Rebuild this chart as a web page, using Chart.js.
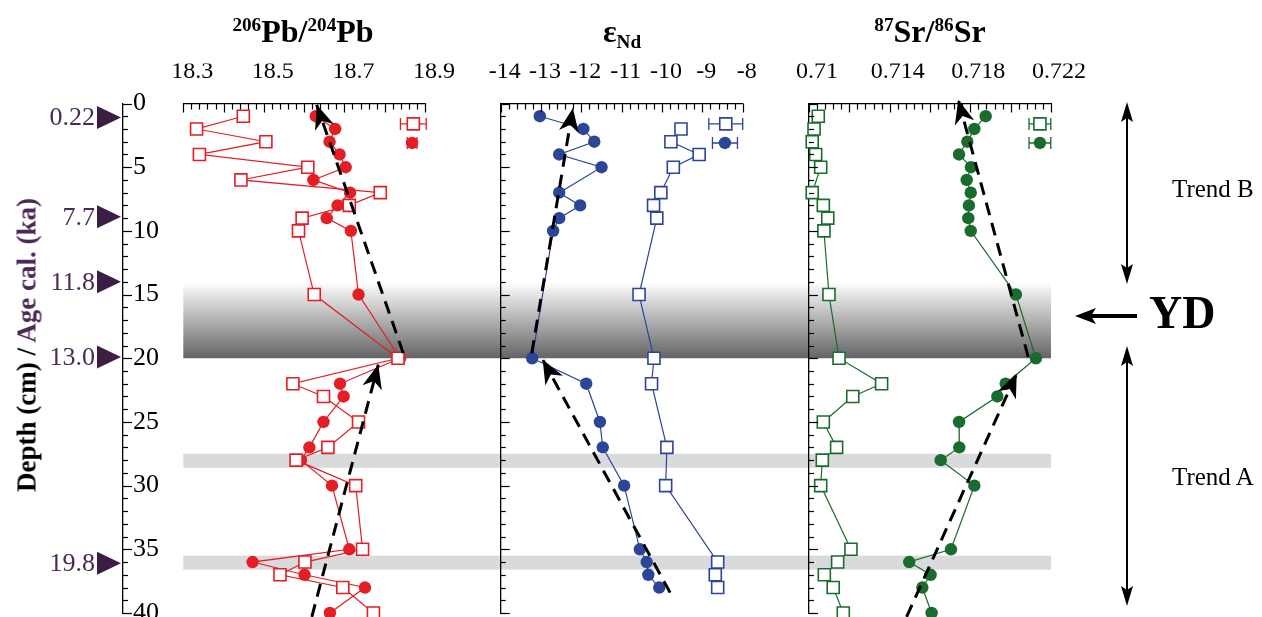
<!DOCTYPE html>
<html>
<head>
<meta charset="utf-8">
<script src="https://cdn.jsdelivr.net/npm/chart.js@4"></script>
<style>
body { margin: 0; background: #fff; width: 1262px; height: 617px; overflow: hidden; position: relative; font-family: "Liberation Serif", serif; }
canvas { position: absolute; left: 0; top: 0; }
.t { position: absolute; white-space: nowrap; line-height: 1; }
.h { font-weight: bold; font-size: 32px; transform: translateX(-50%); }
.h sup { font-size: 0.6em; vertical-align: 0.55em; line-height: 0; }
.h sub { font-size: 0.6em; vertical-align: -0.3em; line-height: 0; }
</style>
</head>
<body>
<canvas id="bands" width="1262" height="650"></canvas>
<canvas id="depth" width="1262" height="650"></canvas>
<canvas id="pb" width="1262" height="650"></canvas>
<canvas id="nd" width="1262" height="650"></canvas>
<canvas id="sr" width="1262" height="650"></canvas>

<div class="t h" style="left:303px;top:15px"><sup>206</sup>Pb/<sup>204</sup>Pb</div>
<div class="t h" style="left:622px;top:15px">ε<sub>Nd</sub></div>
<div class="t h" style="left:930px;top:15px"><sup>87</sup>Sr/<sup>86</sup>Sr</div>

<div class="t" style="left:27px;top:345px;font-weight:bold;font-size:27px;transform:translate(-50%,-50%) rotate(-90deg)">Depth (cm) / <span style="color:#4b2a55">Age cal. (ka)</span></div>

<div class="t" style="left:1172px;top:176px;font-size:25px">Trend B</div>
<div class="t" style="left:1172px;top:464px;font-size:25px">Trend A</div>
<div class="t" style="left:1149px;top:290px;font-size:46px;font-weight:bold">YD</div>

<svg width="1262" height="617" style="position:absolute;left:0;top:0">
  <line x1="1127" y1="116" x2="1127" y2="270" stroke="#000" stroke-width="2"/>
  <polygon points="1127,102 1133,122 1127,118 1121,122" fill="#000"/>
  <polygon points="1127,284 1133,264 1127,268 1121,264" fill="#000"/>
  <line x1="1127" y1="360" x2="1127" y2="592" stroke="#000" stroke-width="2"/>
  <polygon points="1127,346 1133,366 1127,362 1121,366" fill="#000"/>
  <polygon points="1127,606 1133,586 1127,590 1121,586" fill="#000"/>
  <line x1="1137" y1="316" x2="1090" y2="316" stroke="#000" stroke-width="4"/>
  <polygon points="1075,316 1096,308 1091,316 1096,324" fill="#000"/>
</svg>

<script>
// depth (cm) of each sample
const pbDepth = [1, 2, 3, 4, 5, 6, 7, 8, 9, 10, 15, 20, 22, 23, 25, 27, 28, 30, 35, 36, 37, 38, 40];
const pbOpen = [18.449, 18.333, 18.505, 18.340, 18.609, 18.443, 18.789, 18.712, 18.595, 18.586, 18.625, 18.833,
                18.572, 18.648, 18.735, 18.659, 18.580, 18.728, 18.745, 18.602, 18.540, 18.696, 18.772];
const pbFilled = [18.629, 18.677, 18.663, 18.688, 18.703, 18.623, 18.714, 18.683, 18.656, 18.716, 18.735, 18.838,
                  18.689, 18.698, 18.648, 18.613, 18.592, 18.669, 18.712, 18.472, 18.601, 18.751, 18.664];

const ndOpenDepth = [2, 3, 4, 5, 7, 8, 9, 15, 20, 22, 27, 30, 36, 37, 38];
const ndOpen = [-9.53, -9.78, -9.08, -9.72, -10.03, -10.21, -10.13, -10.57, -10.20, -10.26, -9.88, -9.91, -8.62, -8.68, -8.62];
const ndFilledDepth = [1, 2, 3, 4, 5, 7, 8, 9, 10, 20, 22, 25, 27, 30, 35, 36, 37, 38];
const ndFilled = [-13.03, -11.95, -11.68, -12.55, -11.50, -12.55, -12.03, -12.55, -12.70, -13.22,
                  -11.88, -11.54, -11.47, -10.94, -10.55, -10.38, -10.34, -10.07];

const srOpenDepth = [1, 2, 3, 4, 5, 7, 8, 9, 10, 15, 20, 22, 23, 25, 27, 28, 30, 35, 36, 37, 38, 40];
const srOpen = [0.71046, 0.71025, 0.71016, 0.71033, 0.71058, 0.71016, 0.71071, 0.71093, 0.71074, 0.71099, 0.71149,
                0.71360, 0.71217, 0.71071, 0.71137, 0.71066, 0.71058, 0.71208, 0.71142, 0.71076, 0.71120, 0.71170];
const srFilledDepth = [1, 2, 3, 4, 5, 6, 7, 8, 9, 10, 15, 20, 22, 23, 25, 27, 28, 30, 35, 36, 37, 38, 40];
const srFilled = [0.71876, 0.71820, 0.71785, 0.71744, 0.71803, 0.71782, 0.71802, 0.71793, 0.71790, 0.71802, 0.72026, 0.72125,
                  0.71975, 0.71934, 0.71744, 0.71745, 0.71653, 0.71820, 0.71704, 0.71497, 0.71603, 0.71562, 0.71608];

// dashed trend arrows: [value, depth], tail first, tip last
const pbTrendB = [[18.846, 19.6], [18.631, 0.1]];
const pbTrendA = [[18.619, 40.3], [18.784, 20.5]];
const ndTrendB = [[-13.23, 19.6], [-12.21, 0.35]];
const ndTrendA = [[-9.80, 38.4], [-12.96, 20.1]];
const srTrendB = [[0.72087, 19.9], [0.71740, -0.3]];
const srTrendA = [[0.71484, 40.3], [0.72030, 21.2]];

// uncertainty keys (open square, filled circle)
const keyDepth = [1.6, 3.1];
const pbKey = [18.871, 18.868], pbKeyErr = [0.032, 0.012];
const ndKey = [-8.42, -8.44], ndKeyErr = [0.42, 0.31];
const srKey = [0.72145, 0.72145], srKeyErr = [0.00054, 0.00054];

const pbTicks = [18.3, 18.5, 18.7, 18.9];
const ndTicks = [-14, -13, -12, -11, -10, -9, -8];
const srTicks = [0.710, 0.714, 0.718, 0.722];
const depthTicks = [0, 5, 10, 15, 20, 25, 30, 35, 40];

const ageDepth = [1.1, 8.9, 14.0, 19.9, 36.1];
const ageLabels = ['0.22', '7.7', '11.8', '13.0', '19.8'];

const bandTop = [14, 27.5, 35.5];
const bandBottom = [20, 28.6, 36.6];

const W = 1262, H = 650, TOP = 103.5, BOT = 613, AXH = 40;
const FONT = 'Liberation Serif';

const tickMarks = {
  id: 'tickMarks',
  afterDraw(chart, args, opts) {
    const ctx = chart.ctx, x = chart.scales.x, y = chart.scales.y, left = chart.chartArea.left;
    ctx.save();
    ctx.strokeStyle = '#000';
    ctx.lineWidth = 1.2;
    if (opts.xStep) {
      const n = Math.round((x.max - x.min) / opts.xStep);
      for (let i = 0; i <= n; i++) {
        const px = Math.round(x.getPixelForValue(x.min + i * opts.xStep)) + 0.5;
        ctx.beginPath();
        ctx.moveTo(px, x.bottom);
        ctx.lineTo(px, x.bottom + (i % 5 === 0 ? 9 : 6));
        ctx.stroke();
      }
    }
    if (opts.yTicks) {
      for (let d = 0; d <= 40; d++) {
        const py = Math.round(y.getPixelForValue(d)) + 0.5;
        ctx.beginPath();
        ctx.moveTo(left, py);
        ctx.lineTo(left + (d % 5 === 0 ? 9 : 5), py);
        ctx.stroke();
      }
    }
    ctx.restore();
  }
};

const arrowHeads = {
  id: 'arrowHeads',
  afterDatasetsDraw(chart) {
    const ctx = chart.ctx;
    chart.data.datasets.forEach((ds, i) => {
      if (!ds.arrowHead) return;
      const p = chart.getDatasetMeta(i).data;
      const tip = p[p.length - 1], prev = p[p.length - 2];
      const a = Math.atan2(tip.y - prev.y, tip.x - prev.x);
      ctx.save();
      ctx.translate(tip.x, tip.y);
      ctx.rotate(a);
      ctx.fillStyle = '#000';
      ctx.beginPath();
      ctx.moveTo(0, 0);
      ctx.lineTo(-24, -10);
      ctx.lineTo(-17, 0);
      ctx.lineTo(-24, 10);
      ctx.closePath();
      ctx.fill();
      ctx.restore();
    });
  }
};

const errBars = {
  id: 'errBars',
  beforeDatasetsDraw(chart) {
    const ctx = chart.ctx, x = chart.scales.x, y = chart.scales.y;
    chart.data.datasets.forEach(ds => {
      if (!ds.errX) return;
      ctx.save();
      ctx.strokeStyle = ds.errColor;
      ctx.lineWidth = 1.3;
      ds.data.forEach((pt, i) => {
        const x1 = x.getPixelForValue(pt.x - ds.errX[i]), x2 = x.getPixelForValue(pt.x + ds.errX[i]);
        const py = y.getPixelForValue(pt.y);
        ctx.beginPath();
        ctx.moveTo(x1, py); ctx.lineTo(x2, py);
        ctx.moveTo(x1, py - 6); ctx.lineTo(x1, py + 6);
        ctx.moveTo(x2, py - 6); ctx.lineTo(x2, py + 6);
        ctx.stroke();
      });
      ctx.restore();
    });
  }
};

function pts(xs, ds) { return xs.map((v, i) => ({ x: v, y: ds[i] })); }
function pairs(arr) { return arr.map(p => ({ x: p[0], y: p[1] })); }

function openSet(xs, ds, color) {
  return { data: pts(xs, ds), showLine: true, borderColor: color, borderWidth: 1.2,
    pointStyle: 'rect', pointRadius: 8.5, pointBackgroundColor: '#fff', pointBorderColor: color, pointBorderWidth: 1.6, clip: false };
}
function filledSet(xs, ds, color) {
  return { data: pts(xs, ds), showLine: true, borderColor: color, borderWidth: 1.2,
    pointStyle: 'circle', pointRadius: 6.2, pointBackgroundColor: color, pointBorderWidth: 0, clip: false };
}
function trendSet(arr) {
  return { data: pairs(arr), showLine: true, borderColor: '#000', borderWidth: 3, borderDash: [13, 8],
    pointRadius: 0, clip: false, arrowHead: true };
}
function keySet(xs, err, color) {
  return { data: pts(xs, keyDepth), showLine: false, pointStyle: ['rect', 'circle'], pointRadius: [8.5, 6.2],
    pointBackgroundColor: ['#fff', color], pointBorderColor: color, pointBorderWidth: [1.6, 0], clip: false,
    errX: err, errColor: color };
}

function yScale(show) {
  return { type: 'linear', min: 0, max: 40, reverse: true, display: show,
    afterFit: s => { s.width = 0; },
    grid: { drawOnChartArea: false, drawTicks: false },
    ticks: { display: false },
    border: { color: '#000', width: 1.3 } };
}

function panel(id, c) {
  return new Chart(document.getElementById(id), {
    type: 'scatter',
    data: { datasets: c.datasets },
    options: {
      responsive: false, animation: false, events: [],
      layout: { padding: { left: c.left, right: W - c.right, top: TOP - AXH, bottom: H - BOT } },
      plugins: { legend: { display: false }, tooltip: { enabled: false }, tickMarks: { xStep: c.minor, yTicks: c.yAxis } },
      scales: {
        x: {
          type: 'linear', position: 'top', min: c.min, max: c.max,
          afterFit: s => { s.height = AXH; },
          afterBuildTicks: s => { s.ticks = c.ticks.map(v => ({ value: v })); },
          grid: { drawOnChartArea: false, drawTicks: false },
          border: { color: '#000', width: 1.3 },
          ticks: { padding: 17, labelOffset: c.labelOffset, color: '#000', autoSkip: false, maxRotation: 0,
            font: { family: FONT, size: 24 }, callback: c.fmt }
        },
        y: yScale(c.yAxis)
      }
    },
    plugins: [errBars, tickMarks, arrowHeads]
  });
}

const RED = '#e31e24', BLUE = '#2b4696', GREEN = '#1a6b2e';

panel('pb', {
  left: 183.3, right: 425, min: 18.3, max: 18.9, minor: 0.02, ticks: pbTicks, labelOffset: 9, yAxis: false,
  fmt: v => v.toFixed(1),
  datasets: [trendSet(pbTrendB), trendSet(pbTrendA), keySet(pbKey, pbKeyErr, RED),
    openSet(pbOpen, pbDepth, RED), filledSet(pbFilled, pbDepth, RED)]
});
panel('nd', {
  left: 500.7, right: 742.7, min: -14, max: -8, minor: 0.2, ticks: ndTicks, labelOffset: 4, yAxis: true,
  fmt: v => String(v),
  datasets: [trendSet(ndTrendB), trendSet(ndTrendA), keySet(ndKey, ndKeyErr, BLUE),
    openSet(ndOpen, ndOpenDepth, BLUE), filledSet(ndFilled, ndFilledDepth, BLUE)]
});
panel('sr', {
  left: 809, right: 1051, min: 0.710, max: 0.722, minor: 0.0004, ticks: srTicks, labelOffset: 8, yAxis: true,
  fmt: v => String(+v.toFixed(3)),
  datasets: [trendSet(srTrendB), trendSet(srTrendA), keySet(srKey, srKeyErr, GREEN),
    openSet(srOpen, srOpenDepth, GREEN), filledSet(srFilled, srFilledDepth, GREEN)]
});

// shaded depth intervals behind all three panels
new Chart(document.getElementById('bands'), {
  type: 'scatter',
  data: { datasets: [] },
  options: {
    responsive: false, animation: false, events: [],
    layout: { padding: { left: 183.3, right: W - 1051, top: TOP, bottom: H - BOT } },
    plugins: { legend: { display: false }, tooltip: { enabled: false } },
    scales: { x: { display: false, min: 0, max: 1 }, y: { display: false, min: 0, max: 40, reverse: true } }
  },
  plugins: [{
    id: 'bandFill',
    beforeDatasetsDraw(chart) {
      const ctx = chart.ctx, y = chart.scales.y, a = chart.chartArea;
      bandTop.forEach((t, i) => {
        const y1 = y.getPixelForValue(t), y2 = y.getPixelForValue(bandBottom[i]);
        if (i === 0) {
          const g = ctx.createLinearGradient(0, y1, 0, y2);
          g.addColorStop(0, '#ffffff');
          g.addColorStop(1, '#646466');
          ctx.fillStyle = g;
        } else {
          ctx.fillStyle = '#d9dadb';
        }
        ctx.fillRect(a.left, y1, a.right - a.left, y2 - y1);
      });
    }
  }]
});

// depth axis with calibrated ages
new Chart(document.getElementById('depth'), {
  type: 'scatter',
  data: { datasets: [] },
  options: {
    responsive: false, animation: false, events: [],
    layout: { padding: { left: 123, right: W - 180, top: TOP, bottom: H - BOT } },
    plugins: { legend: { display: false }, tooltip: { enabled: false }, tickMarks: { yTicks: true } },
    scales: {
      x: { display: false, min: 0, max: 1 },
      y: {
        type: 'linear', position: 'left', min: 0, max: 40, reverse: true,
        afterFit: s => { s.width = 0; },
        afterBuildTicks: s => { s.ticks = depthTicks.map(v => ({ value: v })); },
        grid: { drawOnChartArea: false, drawTicks: false },
        border: { color: '#000', width: 1.3 },
        ticks: { mirror: true, padding: 10, color: '#000', font: { family: FONT, size: 26 } }
      }
    }
  },
  plugins: [tickMarks, {
    id: 'ages',
    afterDraw(chart) {
      const ctx = chart.ctx, y = chart.scales.y, x0 = chart.chartArea.left;
      ctx.save();
      ctx.font = '26px "Liberation Serif"';
      ctx.textAlign = 'right';
      ctx.textBaseline = 'middle';
      ageDepth.forEach((d, i) => {
        const py = y.getPixelForValue(d);
        ctx.fillStyle = '#3b1e42';
        ctx.beginPath();
        ctx.moveTo(x0 - 2, py);
        ctx.lineTo(x0 - 26, py - 11.5);
        ctx.lineTo(x0 - 26, py + 11.5);
        ctx.closePath();
        ctx.fill();
        ctx.fillStyle = '#4b2a55';
        ctx.fillText(ageLabels[i], x0 - 28, py + 1);
      });
      ctx.restore();
    }
  }]
});
</script>
</body>
</html>
